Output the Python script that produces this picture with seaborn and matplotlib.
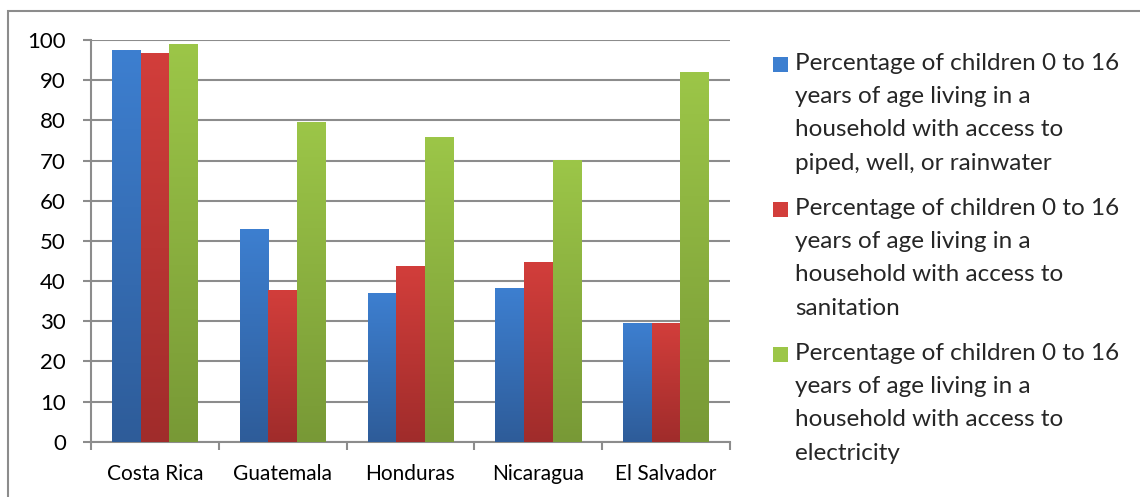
import numpy as np
import pandas as pd
import seaborn as sns
import matplotlib.pyplot as plt
from matplotlib.colors import LinearSegmentedColormap
from matplotlib.patches import Rectangle

# Data
countries = ['Costa Rica', 'Guatemala', 'Honduras', 'Nicaragua', 'El Salvador']
water = [97.5, 53.0, 37.0, 38.2, 29.5]
sanitation = [96.8, 37.9, 43.7, 44.7, 29.5]
electricity = [99.0, 79.7, 75.9, 70.1, 92.0]
series_labels = [
    'Percentage of children 0 to 16\nyears of age living in a\nhousehold with access to\npiped, well, or rainwater',
    'Percentage of children 0 to 16\nyears of age living in a\nhousehold with access to\nsanitation',
    'Percentage of children 0 to 16\nyears of age living in a\nhousehold with access to\nelectricity',
]

# top colour, bottom colour of each series gradient
tops = ['#3d7fd0', '#d23e3b', '#9cc648']
bottoms = ['#2e5c99', '#a02c2b', '#789936']

df = pd.DataFrame({
    'country': countries * 3,
    'value': water + sanitation + electricity,
    'series': [s for s in series_labels for _ in countries],
})

sns.set_style('white')
plt.rcParams['font.family'] = ['Lato', 'DejaVu Sans']

fig = plt.figure(figsize=(11.4, 4.97), dpi=100)
ax = fig.add_axes([0.0798, 0.111, 0.5605, 0.8085])

sns.barplot(data=df, x='country', y='value', hue='series', palette=tops,
            width=0.67, gap=0, ax=ax, legend=False, saturation=1,
            edgecolor='none', linewidth=0)

# gradient fill for every bar, clipped to the bar rectangle
grad = np.linspace(0, 1, 256).reshape(-1, 1)
bars = list(ax.patches)
for i, bar in enumerate(bars):
    k = i // len(countries)
    cmap = LinearSegmentedColormap.from_list('g', [bottoms[k], tops[k]])
    x, w, h = bar.get_x(), bar.get_width(), bar.get_height()
    im = ax.imshow(grad, extent=[x, x + w, 0, h], origin='lower',
                   aspect='auto', cmap=cmap, zorder=3)
    im.set_clip_path(bar)

ax.set_xlim(-0.5, len(countries) - 0.5)
ax.set_ylim(0, 100)
ax.set_yticks(range(0, 101, 10))
ax.set_xticks(range(len(countries)))
ax.set_xticks(np.arange(-0.5, len(countries), 1), minor=True)
ax.set_xlabel('')
ax.set_ylabel('')

ax.yaxis.grid(True, color='#8c8c8c', linewidth=1.5)
ax.set_axisbelow(True)
for s in ['top', 'right']:
    ax.spines[s].set_visible(False)
for s in ['left', 'bottom']:
    ax.spines[s].set_color('#8c8c8c')
    ax.spines[s].set_linewidth(1.5)

ax.tick_params(axis='y', left=True, length=6, width=1.5, color='#8c8c8c',
               labelsize=16, pad=12, labelcolor='black')
ax.tick_params(axis='x', which='major', length=0, labelsize=15, pad=16,
               labelcolor='black')
ax.tick_params(axis='x', which='minor', bottom=True, length=6, width=1.5,
               color='#8c8c8c')

# legend, square next to the first line of each entry
for k, label in enumerate(series_labels):
    y_sq = 1 - (57 + k * 145) / 497
    fig.patches.append(Rectangle((773 / 1140, y_sq - 15 / 497), 15 / 1140, 15 / 497,
                                 transform=fig.transFigure, facecolor=tops[k],
                                 edgecolor='none'))
    fig.text(795 / 1140, 1 - (53 + k * 145) / 497, label, fontsize=17.5,
             va='top', ha='left', linespacing=1.72)

# outer chart border (cropped on right and bottom)
fig.patches.append(Rectangle((8 / 1140, -0.1), 1.2, 0.1 + 1 - 10.5 / 497,
                             transform=fig.transFigure, facecolor='none',
                             edgecolor='#8c8c8c', linewidth=1.5))

fig.savefig('out.png', dpi=100)
